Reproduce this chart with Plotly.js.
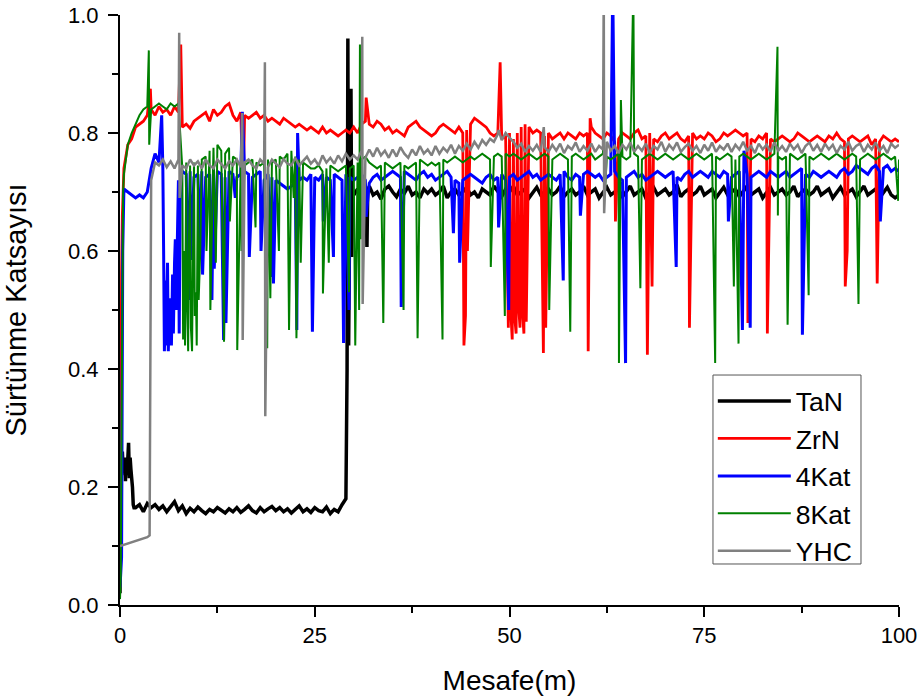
<!DOCTYPE html>
<html>
<head>
<meta charset="utf-8">
<script src="https://cdn.plot.ly/plotly-3.0.1.min.js"></script>
<style>
  body { margin: 0; background: #fff; }
  #chart { width: 921px; height: 700px; }
</style>
</head>
<body>
<div id="chart"></div>
<script>
// sliding distance (m), sampled every 0.5 m
const dist = [
  0, 0.5, 1, 1.5, 2, 2.5, 3, 3.5, 4, 4.5,
  5, 5.5, 6, 6.5, 7, 7.5, 8, 8.5, 9, 9.5,
  10, 10.5, 11, 11.5, 12, 12.5, 13, 13.5, 14, 14.5,
  15, 15.5, 16, 16.5, 17, 17.5, 18, 18.5, 19, 19.5,
  20, 20.5, 21, 21.5, 22, 22.5, 23, 23.5, 24, 24.5,
  25, 25.5, 26, 26.5, 27, 27.5, 28, 28.5, 29, 29.5,
  30, 30.5, 31, 31.5, 32, 32.5, 33, 33.5, 34, 34.5,
  35, 35.5, 36, 36.5, 37, 37.5, 38, 38.5, 39, 39.5,
  40, 40.5, 41, 41.5, 42, 42.5, 43, 43.5, 44, 44.5,
  45, 45.5, 46, 46.5, 47, 47.5, 48, 48.5, 49, 49.5,
  50, 50.5, 51, 51.5, 52, 52.5, 53, 53.5, 54, 54.5,
  55, 55.5, 56, 56.5, 57, 57.5, 58, 58.5, 59, 59.5,
  60, 60.5, 61, 61.5, 62, 62.5, 63, 63.5, 64, 64.5,
  65, 65.5, 66, 66.5, 67, 67.5, 68, 68.5, 69, 69.5,
  70, 70.5, 71, 71.5, 72, 72.5, 73, 73.5, 74, 74.5,
  75, 75.5, 76, 76.5, 77, 77.5, 78, 78.5, 79, 79.5,
  80, 80.5, 81, 81.5, 82, 82.5, 83, 83.5, 84, 84.5,
  85, 85.5, 86, 86.5, 87, 87.5, 88, 88.5, 89, 89.5,
  90, 90.5, 91, 91.5, 92, 92.5, 93, 93.5, 94, 94.5,
  95, 95.5, 96, 96.5, 97, 97.5, 98, 98.5, 99, 99.5,
  100
];

// TaN
const tanBase = [
  0.02, 0.24, 0.26, 0.22, 0.165, 0.17, 0.158, 0.172, 0.165, 0.17,
  0.162, 0.168, 0.158, 0.166, 0.175, 0.16, 0.168, 0.155, 0.164, 0.158,
  0.166, 0.16, 0.155, 0.162, 0.158, 0.165, 0.16, 0.156, 0.163, 0.158,
  0.165, 0.157, 0.162, 0.168, 0.16, 0.156, 0.165, 0.158, 0.163, 0.167,
  0.16, 0.165, 0.158, 0.163, 0.156, 0.162, 0.168, 0.158, 0.163, 0.157,
  0.165, 0.16, 0.158, 0.166, 0.155, 0.162, 0.158, 0.17, 0.18, 0.70,
  0.695, 0.705, 0.69, 0.70, 0.71, 0.695, 0.70, 0.688, 0.705, 0.71,
  0.70, 0.692, 0.705, 0.698, 0.71, 0.695, 0.70, 0.69, 0.705, 0.698,
  0.705, 0.695, 0.70, 0.71, 0.69, 0.70, 0.705, 0.695, 0.70, 0.708,
  0.695, 0.70, 0.69, 0.705, 0.70, 0.695, 0.71, 0.70, 0.692, 0.705,
  0.70, 0.71, 0.695, 0.70, 0.705, 0.69, 0.70, 0.708, 0.695, 0.70,
  0.705, 0.695, 0.70, 0.71, 0.692, 0.70, 0.705, 0.695, 0.70, 0.71,
  0.695, 0.70, 0.705, 0.69, 0.70, 0.708, 0.695, 0.70, 0.705, 0.692,
  0.70, 0.71, 0.695, 0.70, 0.705, 0.69, 0.70, 0.708, 0.695, 0.70,
  0.705, 0.695, 0.70, 0.712, 0.692, 0.70, 0.705, 0.695, 0.70, 0.71,
  0.695, 0.70, 0.705, 0.69, 0.70, 0.708, 0.695, 0.70, 0.705, 0.692,
  0.70, 0.71, 0.695, 0.70, 0.705, 0.69, 0.70, 0.708, 0.695, 0.70,
  0.705, 0.695, 0.70, 0.71, 0.692, 0.70, 0.705, 0.695, 0.70, 0.71,
  0.695, 0.70, 0.705, 0.69, 0.70, 0.708, 0.695, 0.70, 0.705, 0.692,
  0.70, 0.71, 0.695, 0.70, 0.705, 0.69, 0.70, 0.708, 0.695, 0.69,
  0.695
];
const tanSpikeX = [0.1, 0.2, 0.3, 0.4, 0.6, 0.7, 0.8, 0.9, 1.1, 1.2, 1.3, 1.4, 1.6, 1.7, 1.8,
  29.15, 29.25, 29.35, 29.45, 29.65, 29.75, 29.85, 31.6, 31.7, 31.8];
const tanSpikeY = [0.25, 0.22, 0.26, 0.23, 0.25, 0.21, 0.245, 0.22, 0.275, 0.215, 0.25, 0.23, 0.20, 0.17, 0.165,
  0.40, 0.96, 0.44, 0.70, 0.875, 0.59, 0.70, 0.70, 0.607, 0.70];

// ZrN
const zrnBase = [
  0.03, 0.74, 0.78, 0.79, 0.81, 0.815, 0.82, 0.83, 0.84, 0.83,
  0.845, 0.835, 0.84, 0.83, 0.845, 0.835, 0.81, 0.815, 0.808, 0.82,
  0.825, 0.83, 0.835, 0.82, 0.84, 0.83, 0.835, 0.845, 0.85, 0.83,
  0.82, 0.835, 0.83, 0.825, 0.83, 0.835, 0.825, 0.83, 0.82, 0.825,
  0.82, 0.815, 0.825, 0.82, 0.815, 0.81, 0.815, 0.81, 0.805, 0.81,
  0.805, 0.80, 0.81, 0.80, 0.805, 0.80, 0.795, 0.80, 0.805, 0.80,
  0.81, 0.80, 0.815, 0.82, 0.815, 0.81, 0.82, 0.815, 0.805, 0.81,
  0.80, 0.805, 0.80, 0.795, 0.81, 0.815, 0.82, 0.81, 0.805, 0.80,
  0.795, 0.80, 0.81, 0.815, 0.81, 0.805, 0.80, 0.81, 0.80, 0.805,
  0.815, 0.825, 0.82, 0.815, 0.81, 0.80, 0.795, 0.80, 0.79, 0.795,
  0.80, 0.79, 0.80, 0.81, 0.815, 0.81, 0.80, 0.805, 0.80, 0.795,
  0.80, 0.79, 0.795, 0.80, 0.79, 0.80, 0.795, 0.79, 0.80, 0.795,
  0.80, 0.81, 0.80, 0.795, 0.79, 0.80, 0.795, 0.785, 0.79, 0.80,
  0.795, 0.79, 0.80, 0.805, 0.79, 0.795, 0.80, 0.79, 0.785, 0.795,
  0.80, 0.79, 0.795, 0.80, 0.79, 0.785, 0.795, 0.80, 0.79, 0.795,
  0.79, 0.80, 0.795, 0.785, 0.79, 0.80, 0.795, 0.80, 0.805, 0.80,
  0.795, 0.80, 0.79, 0.785, 0.795, 0.79, 0.80, 0.79, 0.785, 0.79,
  0.795, 0.79, 0.785, 0.79, 0.80, 0.795, 0.79, 0.785, 0.79, 0.795,
  0.79, 0.785, 0.795, 0.79, 0.80, 0.79, 0.785, 0.79, 0.795, 0.79,
  0.785, 0.79, 0.795, 0.78, 0.79, 0.785, 0.795, 0.79, 0.785, 0.79,
  0.785
];
const zrnSpikeX = [0.05, 0.1, 0.2, 0.3, 0.4, 3.9, 7.8, 15.8, 31.6, 44.15, 44.35, 44.6, 48.8,
  49.85, 50.15, 50.35, 50.65, 50.85, 51.15, 51.35, 51.65, 51.85, 52.15, 54.35, 54.65,
  60.1, 60.35, 63.6, 67.7, 68.3, 73.1, 80.6, 83.1, 93.1, 93.35, 97.2];
const zrnSpikeY = [0.22, 0.40, 0.56, 0.66, 0.72, 0.875, 0.95, 0.70, 0.86, 0.44, 0.49, 0.60, 0.92,
  0.47, 0.50, 0.45, 0.49, 0.46, 0.51, 0.47, 0.50, 0.46, 0.48, 0.427, 0.47,
  0.43, 0.825, 0.65, 0.424, 0.54, 0.47, 0.478, 0.46, 0.54, 0.60, 0.545];

// 4Kat
const kat4Base = [
  0.03, 0.705, 0.70, 0.695, 0.69, 0.695, 0.69, 0.70, 0.74, 0.765,
  0.75, 0.74, 0.50, 0.47, 0.58, 0.72, 0.735, 0.73, 0.735, 0.725,
  0.73, 0.735, 0.725, 0.73, 0.74, 0.735, 0.73, 0.725, 0.735, 0.73,
  0.725, 0.73, 0.735, 0.73, 0.725, 0.73, 0.735, 0.72, 0.73, 0.725,
  0.72, 0.715, 0.71, 0.705, 0.71, 0.715, 0.72, 0.725, 0.72, 0.73,
  0.725, 0.72, 0.73, 0.725, 0.72, 0.73, 0.725, 0.72, 0.73, 0.725,
  0.72, 0.725, 0.73, 0.72, 0.715, 0.725, 0.73, 0.72, 0.725, 0.73,
  0.735, 0.73, 0.725, 0.735, 0.73, 0.725, 0.72, 0.73, 0.735, 0.725,
  0.73, 0.72, 0.725, 0.73, 0.735, 0.725, 0.72, 0.715, 0.72, 0.725,
  0.73, 0.725, 0.72, 0.715, 0.725, 0.73, 0.72, 0.725, 0.73, 0.72,
  0.725, 0.73, 0.72, 0.725, 0.73, 0.735, 0.725, 0.73, 0.72, 0.725,
  0.73, 0.725, 0.72, 0.73, 0.735, 0.725, 0.72, 0.73, 0.725, 0.73,
  0.735, 0.73, 0.725, 0.73, 0.72, 0.725, 0.73, 0.735, 0.725, 0.72,
  0.725, 0.73, 0.735, 0.725, 0.73, 0.72, 0.725, 0.73, 0.735, 0.73,
  0.725, 0.73, 0.735, 0.725, 0.72, 0.73, 0.735, 0.725, 0.73, 0.735,
  0.73, 0.725, 0.735, 0.73, 0.725, 0.735, 0.73, 0.725, 0.73, 0.735,
  0.74, 0.73, 0.725, 0.73, 0.735, 0.73, 0.725, 0.735, 0.73, 0.725,
  0.73, 0.735, 0.725, 0.73, 0.735, 0.74, 0.73, 0.725, 0.735, 0.73,
  0.725, 0.73, 0.735, 0.73, 0.725, 0.735, 0.74, 0.73, 0.735, 0.745,
  0.74, 0.735, 0.73, 0.74, 0.745, 0.735, 0.74, 0.745, 0.735, 0.74,
  0.735
];
const kat4SpikeX = [0.2, 0.35, 0.45, 5.35, 5.6, 5.7, 5.85, 5.95, 6.1, 6.2, 6.35, 6.6, 6.75, 6.85,
  7.1, 7.2, 7.35, 7.6, 7.75, 8.8, 9.05, 10.3, 10.6, 11.8, 12.1, 13.3, 13.6, 14.8, 15.7, 16.6,
  18.1, 19.4, 19.7, 22.7, 22.8, 24.7, 26.1, 27.4, 28.7, 29.4, 31.6, 36.1, 42.8, 43.6, 48.6,
  49.9, 56.9, 59.1, 63.25, 63.4, 64.9, 71.4, 78.1, 79.9, 80.1, 80.9, 87.6, 97.6];
const kat4SpikeY = [0.08, 0.60, 0.70, 0.83, 0.60, 0.43, 0.55, 0.44, 0.58, 0.43, 0.52, 0.44, 0.56, 0.46,
  0.62, 0.50, 0.66, 0.46, 0.72, 0.517, 0.585, 0.613, 0.56, 0.517, 0.57, 0.449, 0.478, 0.69, 0.836, 0.59,
  0.60, 0.556, 0.545, 0.466, 0.80, 0.463, 0.65, 0.59, 0.444, 0.50, 0.658, 0.505, 0.63, 0.58, 0.64,
  0.50, 0.55, 0.66, 1.05, 0.78, 0.41, 0.573, 0.65, 0.466, 0.77, 0.47, 0.458, 0.65];

// 8Kat
const kat8Base = [
  0.01, 0.73, 0.78, 0.80, 0.815, 0.83, 0.84, 0.845, 0.84, 0.845,
  0.85, 0.845, 0.84, 0.85, 0.845, 0.85, 0.74, 0.75, 0.745, 0.75,
  0.745, 0.755, 0.76, 0.77, 0.775, 0.78, 0.77, 0.765, 0.775, 0.76,
  0.755, 0.75, 0.745, 0.75, 0.755, 0.75, 0.745, 0.75, 0.755, 0.75,
  0.755, 0.76, 0.755, 0.765, 0.77, 0.76, 0.755, 0.75, 0.745, 0.74,
  0.74, 0.745, 0.735, 0.74, 0.745, 0.74, 0.735, 0.74, 0.745, 0.74,
  0.745, 0.75, 0.755, 0.76, 0.75, 0.745, 0.74, 0.745, 0.75, 0.745,
  0.74, 0.745, 0.75, 0.745, 0.74, 0.745, 0.75, 0.755, 0.75, 0.745,
  0.75, 0.745, 0.75, 0.755, 0.75, 0.755, 0.76, 0.755, 0.75, 0.755,
  0.76, 0.755, 0.76, 0.765, 0.76, 0.755, 0.76, 0.765, 0.76, 0.765,
  0.76, 0.765, 0.76, 0.755, 0.76, 0.765, 0.76, 0.755, 0.76, 0.765,
  0.76, 0.755, 0.76, 0.765, 0.76, 0.755, 0.76, 0.765, 0.76, 0.755,
  0.76, 0.765, 0.755, 0.76, 0.765, 0.76, 0.755, 0.76, 0.765, 0.76,
  0.755, 0.76, 0.765, 0.76, 0.755, 0.76, 0.765, 0.76, 0.755, 0.76,
  0.765, 0.76, 0.755, 0.76, 0.765, 0.76, 0.755, 0.76, 0.765, 0.76,
  0.755, 0.76, 0.765, 0.76, 0.755, 0.76, 0.765, 0.76, 0.755, 0.76,
  0.765, 0.76, 0.755, 0.76, 0.765, 0.76, 0.755, 0.76, 0.765, 0.76,
  0.755, 0.76, 0.765, 0.76, 0.755, 0.76, 0.765, 0.76, 0.755, 0.76,
  0.765, 0.76, 0.755, 0.76, 0.765, 0.76, 0.755, 0.76, 0.765, 0.76,
  0.755, 0.76, 0.765, 0.76, 0.755, 0.76, 0.765, 0.76, 0.755, 0.76,
  0.755
];
const kat8SpikeX = [0.1, 0.2, 0.3, 0.4, 3.7, 3.75, 8.1, 8.25, 8.35, 8.6, 8.75, 8.85, 9.1, 9.25, 9.35,
  9.6, 9.75, 9.85, 10.1, 10.3, 11.1, 11.6, 12.3, 13.35, 14.1, 15.05, 15.6, 17.4, 18.9, 19.3, 20.4,
  21.7, 22.3, 22.65, 23.2, 26.05, 26.8, 29.4, 30.2, 30.7, 30.8, 30.9, 33.8, 36.4, 38.2, 41.4, 47.6,
  49.4, 55.1, 57.8, 57.95, 62.1, 62.2, 64.05, 64.3, 65.9, 66.8, 76.4, 78.8, 79.4, 84.4, 84.45, 85.7,
  88.4, 94.8, 99.9];
const kat8SpikeY = [0.05, 0.30, 0.55, 0.70, 0.94, 0.78, 0.45, 0.60, 0.44, 0.52, 0.43, 0.62, 0.47, 0.43, 0.58,
  0.49, 0.53, 0.44, 0.517, 0.60, 0.60, 0.50, 0.58, 0.446, 0.65, 0.432, 0.60, 0.64, 0.435, 0.52, 0.60,
  0.466, 0.69, 0.452, 0.58, 0.528, 0.58, 0.53, 0.44, 0.50, 0.95, 0.62, 0.478, 0.50, 0.452, 0.45, 0.573,
  0.49, 0.50, 0.463, 0.68, 0.895, 0.69, 0.41, 0.856, 1.05, 0.537, 0.41, 0.54, 0.443, 0.946, 0.66, 0.475,
  0.525, 0.51, 0.685];

// YHC
const yhcBase = [
  0.10, 0.102, 0.105, 0.107, 0.108, 0.11, 0.112, 0.115, 0.72, 0.75,
  0.745, 0.755, 0.742, 0.752, 0.74, 0.755, 0.745, 0.74, 0.755, 0.745,
  0.752, 0.74, 0.755, 0.745, 0.74, 0.755, 0.748, 0.74, 0.752, 0.745,
  0.755, 0.742, 0.75, 0.755, 0.745, 0.74, 0.755, 0.748, 0.742, 0.755,
  0.748, 0.742, 0.756, 0.748, 0.745, 0.758, 0.745, 0.752, 0.76, 0.748,
  0.755, 0.745, 0.762, 0.75, 0.758, 0.748, 0.762, 0.752, 0.765, 0.755,
  0.762, 0.755, 0.77, 0.758, 0.772, 0.76, 0.775, 0.762, 0.77, 0.758,
  0.772, 0.76, 0.776, 0.765, 0.758, 0.772, 0.762, 0.778, 0.765, 0.772,
  0.762, 0.778, 0.765, 0.775, 0.768, 0.78, 0.765, 0.778, 0.77, 0.782,
  0.772, 0.785, 0.775, 0.788, 0.78, 0.79, 0.785, 0.798, 0.788, 0.80,
  0.792, 0.785, 0.775, 0.782, 0.768, 0.778, 0.77, 0.78, 0.768, 0.776,
  0.768, 0.78, 0.77, 0.782, 0.766, 0.778, 0.772, 0.784, 0.768, 0.778,
  0.77, 0.782, 0.768, 0.778, 0.772, 0.785, 0.77, 0.778, 0.766, 0.78,
  0.772, 0.784, 0.768, 0.778, 0.77, 0.782, 0.766, 0.778, 0.772, 0.785,
  0.768, 0.78, 0.772, 0.784, 0.768, 0.776, 0.782, 0.77, 0.778, 0.766,
  0.78, 0.77, 0.784, 0.768, 0.778, 0.772, 0.782, 0.768, 0.78, 0.772,
  0.785, 0.77, 0.778, 0.766, 0.782, 0.772, 0.78, 0.768, 0.784, 0.77,
  0.778, 0.768, 0.782, 0.772, 0.78, 0.766, 0.778, 0.784, 0.77, 0.78,
  0.768, 0.782, 0.772, 0.78, 0.766, 0.778, 0.772, 0.785, 0.77, 0.778,
  0.782, 0.768, 0.78, 0.772, 0.784, 0.77, 0.778, 0.766, 0.782, 0.775,
  0.78
];
const yhcSpikeX = [3.8, 3.95, 7.6, 7.65, 15.7, 15.75, 18.6, 18.65, 31.1, 31.15, 48.6, 54.4, 62.1, 62.15];
const yhcSpikeY = [0.118, 0.60, 0.97, 0.69, 0.834, 0.449, 0.92, 0.32, 0.963, 0.51, 0.805, 0.81, 1.05, 0.664];

// merge the regular samples with the short spikes, ordered by distance
function buildSeries(name, base, spikeX, spikeY) {
    if (base.length !== dist.length || spikeX.length !== spikeY.length) {
        throw new Error(name + ': length mismatch ' + base.length + ' ' + spikeX.length + '/' + spikeY.length);
    }
    const pts = dist.map((d, i) => [d, base[i]]);
    spikeX.forEach((d, i) => pts.push([d, spikeY[i]]));
    pts.sort((a, b) => a[0] - b[0]);
    return { x: pts.map(p => p[0]), y: pts.map(p => p[1]) };
}

const tan = buildSeries('TaN', tanBase, tanSpikeX, tanSpikeY);
const zrn = buildSeries('ZrN', zrnBase, zrnSpikeX, zrnSpikeY);
const kat4 = buildSeries('4Kat', kat4Base, kat4SpikeX, kat4SpikeY);
const kat8 = buildSeries('8Kat', kat8Base, kat8SpikeX, kat8SpikeY);
const yhc = buildSeries('YHC', yhcBase, yhcSpikeX, yhcSpikeY);

const data = [
    { x: tan.x, y: tan.y, name: 'TaN', type: 'scatter', mode: 'lines', line: { color: '#000000', width: 3.5 } },
    { x: zrn.x, y: zrn.y, name: 'ZrN', type: 'scatter', mode: 'lines', line: { color: '#ff0000', width: 2.8 } },
    { x: kat4.x, y: kat4.y, name: '4Kat', type: 'scatter', mode: 'lines', line: { color: '#0000ff', width: 3 } },
    { x: kat8.x, y: kat8.y, name: '8Kat', type: 'scatter', mode: 'lines', line: { color: '#008000', width: 2 } },
    { x: yhc.x, y: yhc.y, name: 'YHC', type: 'scatter', mode: 'lines', line: { color: '#808080', width: 2.5 } }
];

const axisFont = { family: 'Arial, "Liberation Sans", sans-serif', size: 22, color: '#000' };

const layout = {
    width: 921,
    height: 700,
    margin: { l: 120, r: 22, t: 15, b: 95 },
    paper_bgcolor: '#ffffff',
    plot_bgcolor: '#ffffff',
    font: { family: 'Arial, "Liberation Sans", sans-serif', color: '#000' },
    showlegend: true,
    legend: {
        x: 0.761, y: 0.386, xanchor: 'left', yanchor: 'top',
        bgcolor: 'rgba(0,0,0,0)', borderwidth: 0,
        font: { size: 26.5, color: '#000' },
        itemwidth: 73
    },
    // frame around the legend
    shapes: [{
        type: 'rect', xref: 'paper', yref: 'paper',
        x0: 0.7612, x1: 0.9512, y0: 0.0695, y1: 0.3898,
        line: { color: '#555555', width: 1 }, fillcolor: '#ffffff', layer: 'above'
    }],
    xaxis: {
        range: [0, 100],
        tickmode: 'linear', tick0: 0, dtick: 25,
        ticks: 'outside', ticklen: 10, tickwidth: 2, tickcolor: '#000',
        minor: { dtick: 12.5, ticks: 'outside', ticklen: 6, tickwidth: 2, tickcolor: '#000', showgrid: false },
        showline: true, linecolor: '#000', linewidth: 2,
        showgrid: false, zeroline: false,
        tickfont: axisFont,
        title: { text: 'Mesafe(m)', font: { size: 28, color: '#000' }, standoff: 23 }
    },
    yaxis: {
        range: [0, 1],
        tickmode: 'linear', tick0: 0, dtick: 0.2, tickformat: '.1f',
        ticks: 'outside', ticklen: 10, tickwidth: 2, tickcolor: '#000',
        minor: { dtick: 0.1, ticks: 'outside', ticklen: 6, tickwidth: 2, tickcolor: '#000', showgrid: false },
        showline: true, linecolor: '#000', linewidth: 2,
        showgrid: false, zeroline: false,
        ticklabelstandoff: 5,
        tickfont: axisFont,
        title: { text: 'Sürtünme Katsayısı', font: { size: 29, color: '#000' }, standoff: 40 }
    }
};

Plotly.newPlot('chart', data, layout, { displayModeBar: false, responsive: false });
</script>
</body>
</html>
